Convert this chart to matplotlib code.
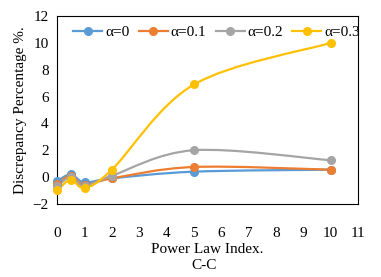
import numpy as np
import matplotlib
matplotlib.use('Agg')
import matplotlib.pyplot as plt
from matplotlib.path import Path
from matplotlib.patches import PathPatch
from matplotlib.lines import Line2D

plt.rcParams['font.family'] = ['Liberation Serif', 'DejaVu Serif']

x = [0, 0.5, 1, 2, 5, 10]
a0 = [-0.3, 0.2, -0.4, -0.1, 0.4, 0.55]
a01 = [-0.5, 0.1, -0.6, -0.1, 0.75, 0.55]
a02 = [-0.7, 0.0, -0.7, 0.1, 2.0, 1.25]
a03 = [-1.0, -0.2, -0.8, 0.55, 6.9, 10.0]
labels = ['\u03b1=0', '\u03b1=0.1', '\u03b1=0.2', '\u03b1=0.3']
colors = ['#5B9BD5', '#ED7D31', '#A5A5A5', '#FFC000']


def smooth_path(xs, ys, t=1/6.):
    # excel style smoothed line as bezier segments
    p = np.column_stack([xs, ys]).astype(float)
    n = len(p)
    verts = [p[0]]
    codes = [Path.MOVETO]
    for i in range(n-1):
        p0 = p[i-1] if i > 0 else p[i]
        p3 = p[i+2] if i+2 < n else p[i+1]
        c1 = p[i] + (p[i+1]-p0)*t
        c2 = p[i+1] - (p3-p[i])*t
        verts += [c1, c2, p[i+1]]
        codes += [Path.CURVE4]*3
    return Path(verts, codes)


fig = plt.figure(figsize=(3.81, 2.77), dpi=100)
ax = fig.add_axes([0.15, 0.264, 0.79, 0.678])

for ys, lab, c in zip([a0, a01, a02, a03], labels, colors):
    ax.add_patch(PathPatch(smooth_path(x, ys), fc='none', ec=c, lw=1.6, zorder=2))
    ax.plot(x, ys, 'o', color=c, ms=5.5, zorder=3, clip_on=False)

ax.set_xlim(0, 11)
ax.set_ylim(-2, 12)
ax.set_xticks(range(0, 12))
ax.set_yticks(range(-2, 13, 2))
ax.tick_params(length=0, labelsize=11)
ax.tick_params(axis='x', pad=17)
ax.tick_params(axis='y', pad=6)
for s in ax.spines.values():
    s.set_linewidth(0.8)
    s.set_color('black')

ax.set_xlabel('Power Law Index.', fontsize=11, labelpad=2)
ax.set_ylabel('Discrepancy Percentage %.', fontsize=11, labelpad=4)
fig.text(0.535, 0.043, 'C-C', ha='center', va='center', fontsize=11)

handles = [Line2D([0], [0], color=c, lw=1.6, marker='o', ms=5.5) for c in colors]
ax.legend(handles, labels, loc='center', ncol=4, frameon=False, fontsize=11,
          handlelength=1.9, handletextpad=0.2, columnspacing=0.6,
          bbox_to_anchor=(0.53, 0.915), borderaxespad=0.0)

fig.savefig('out.png', dpi=100)
